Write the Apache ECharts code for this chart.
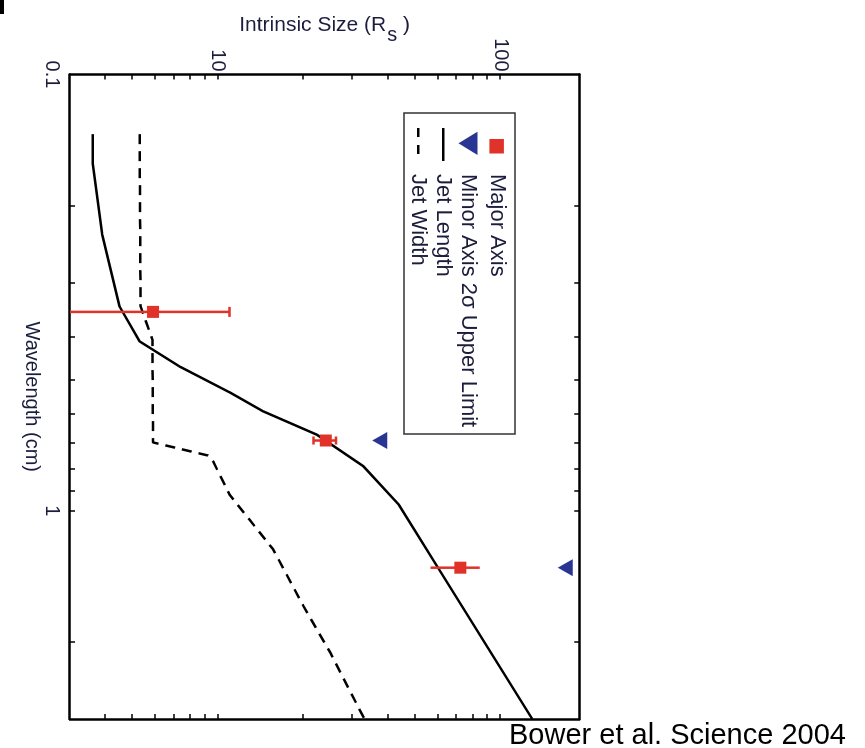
<!DOCTYPE html>
<html>
<head>
<meta charset="utf-8">
<script src="https://cdn.jsdelivr.net/npm/echarts@6/dist/echarts.min.js"></script>
<style>
  body { margin: 0; width: 865px; height: 748px; overflow: hidden; background: #fff; position: relative; }
  /* the figure is printed turned a quarter clockwise, so the chart is drawn upright and turned */
  #chart { position: absolute; left: 0; top: 0; width: 748px; height: 865px;
           transform-origin: 0 0; transform: translateX(865px) rotate(90deg); }
  #credit { position: absolute; left: 509px; top: 720px; font: 29px/29px "Liberation Sans", Arial, sans-serif;
            color: #000; white-space: nowrap; }
  #crop { position: absolute; left: 0; top: 0; width: 4px; height: 14px; background: #000; }
</style>
</head>
<body>
<div id="chart"></div>
<div id="credit">Bower et al. Science 2004</div>
<div id="crop"></div>
<script>
// wavelength in cm, intrinsic size in Schwarzschild radii
var jetLengthWl   = [0.137, 0.160, 0.233, 0.340, 0.409, 0.467, 0.535, 0.592, 0.669, 0.790, 0.967, 1.339, 3.0];
var jetLengthSize = [3.61, 3.61, 3.90, 4.49, 5.29, 7.33, 11.0, 14.5, 22.4, 32.7, 43.6, 59.6, 129.5];

var jetWidthWl   = [0.137, 0.340, 0.405, 0.697, 0.747, 0.770, 0.918, 1.226, 1.654, 2.114, 3.0];
var jetWidthSize = [5.29, 5.33, 5.87, 5.90, 9.24, 9.62, 11.0, 15.7, 20.1, 25.0, 33.0];

var majorWl   = [0.35, 0.69, 1.35];
var majorSize = [5.9, 24.1, 72.1];
var majorLow  = [0.8, 21.8, 56.5];
var majorHigh = [11.0, 26.2, 84.5];

var minorWl    = [0.69, 1.35];
var minorLimit = [37.4, 169.3];

var wlTicks    = [0.2, 0.3, 0.4, 0.5, 0.6, 0.7, 0.8, 0.9, 1, 2];
var wlLabels   = [0.1, 1];
var sizeTicks  = [4, 5, 6, 7, 8, 9, 10, 20, 30, 40, 50, 60, 70, 80, 90, 100];
var sizeLabels = [10, 100];

var legendNames = ['Major Axis', 'Minor Axis 2σ Upper Limit', 'Jet Length', 'Jet Width'];

var capSizes = [10, 8, 0];

var RED = '#e03228';
var BLUE = '#283593';
var INK = '#1c1c3c';
var FONT = '"Liberation Sans", Arial, sans-serif';

function zip(a, b) {
  return a.map(function (v, i) { return [v, b[i]]; });
}

function wlAxis(pos, labels) {
  return {
    type: 'log', logBase: 10, min: 0.1, max: 3, position: pos,
    axisLine: { show: true, onZero: false, lineStyle: { color: '#000', width: 2.5 } },
    axisTick: { show: true, inside: true, length: 5, customValues: wlTicks, lineStyle: { color: '#000', width: 1.5 } },
    axisLabel: { show: labels, customValues: wlLabels, margin: 8, fontSize: 20, color: INK, fontFamily: FONT },
    splitLine: { show: false },
    minorTick: { show: false }
  };
}

function sizeAxis(pos, labels) {
  return {
    type: 'log', logBase: 10, min: 3, max: 190, position: pos,
    axisLine: { show: true, onZero: false, lineStyle: { color: '#000', width: 2.5 } },
    axisTick: { show: true, inside: true, length: 5, customValues: sizeTicks, lineStyle: { color: '#000', width: 1.5 } },
    axisLabel: { show: labels, customValues: sizeLabels, margin: 3, fontSize: 20, color: INK, fontFamily: FONT },
    splitLine: { show: false },
    minorTick: { show: false }
  };
}

// legend drawn by hand (upright frame), rows follow legendNames
function legendGraphic() {
  var rowY = [368.3, 397, 421.7, 446.7];
  var items = [
    { type: 'rect', z: 6, shape: { x: 113, y: 350, width: 321, height: 111 },
      style: { fill: '#fff', stroke: '#333', lineWidth: 1.5 } },
    { type: 'rect', z: 7, shape: { x: 139, y: rowY[0] - 7.2, width: 14.5, height: 14.5 }, style: { fill: RED } },
    { type: 'polygon', z: 7, shape: { points: [[131.7, rowY[1] - 9.5], [155, rowY[1] - 9.5], [143.3, rowY[1] + 9.5]] },
      style: { fill: BLUE } },
    { type: 'line', z: 7, shape: { x1: 128, y1: rowY[2], x2: 161, y2: rowY[2] },
      style: { stroke: '#000', lineWidth: 2.5 } },
    { type: 'line', z: 7, shape: { x1: 128, y1: rowY[3], x2: 161, y2: rowY[3] },
      style: { stroke: '#000', lineWidth: 2.5, lineDash: [9, 8] } }
  ];
  legendNames.forEach(function (name, i) {
    items.push({ type: 'text', z: 7, x: 174, y: rowY[i],
      style: { text: name, fill: INK, font: '22px ' + FONT, align: 'left', verticalAlign: 'middle' } });
  });
  return items;
}

var chartDom = document.getElementById('chart');
var myChart = echarts.init(chartDom);
var option;

var xMain = wlAxis('bottom', true);
xMain.name = 'Wavelength (cm)';
xMain.nameLocation = 'middle';
xMain.nameGap = 28;
xMain.nameMoveOverlap = false;
xMain.nameTextStyle = { fontSize: 20, color: INK, fontFamily: FONT };

// subscript s: same size, pushed down by opposite paddings
var yMain = sizeAxis('left', true);
yMain.name = '{a|Intrinsic Size (R}{b|s}{a| )}';
yMain.nameLocation = 'middle';
yMain.nameGap = 33;
yMain.nameMoveOverlap = false;
yMain.nameTextStyle = {
  color: INK, fontFamily: FONT,
  rich: {
    a: { fontSize: 21, color: INK, fontFamily: FONT, lineHeight: 23, padding: [0, 0, 10, 0] },
    b: { fontSize: 20, color: INK, fontFamily: FONT, lineHeight: 23, padding: [10, 0, 0, 1] }
  }
};

option = {
  animation: false,
  backgroundColor: '#fff',
  grid: { left: 74.5, right: 29, top: 285.7, bottom: 70, containLabel: false, outerBoundsMode: 'none' },
  xAxis: [xMain, wlAxis('top', false)],
  yAxis: [yMain, sizeAxis('right', false)],
  graphic: legendGraphic(),
  series: [
    {
      name: 'Jet Length', type: 'line', data: zip(jetLengthWl, jetLengthSize),
      symbol: 'none', showSymbol: false, z: 2,
      lineStyle: { color: '#000', width: 2.5 }, itemStyle: { color: '#000' }
    },
    {
      name: 'Jet Width', type: 'line', data: zip(jetWidthWl, jetWidthSize),
      symbol: 'none', showSymbol: false, z: 2,
      lineStyle: { color: '#000', width: 2.5, type: [10, 7] }, itemStyle: { color: '#000' }
    },
    {
      type: 'custom', clip: true, z: 3,
      data: majorWl.map(function (w, i) { return [w, majorLow[i], majorHigh[i]]; }),
      renderItem: function (params, api) {
        var lo = api.coord([api.value(0), api.value(1)]);
        var hi = api.coord([api.value(0), api.value(2)]);
        var cap = capSizes[params.dataIndex];
        var st = { stroke: RED, lineWidth: 2.5 };
        var kids = [{ type: 'line', shape: { x1: lo[0], y1: lo[1], x2: hi[0], y2: hi[1] }, style: st }];
        if (cap) {
          kids.push({ type: 'line', shape: { x1: lo[0] - cap / 2, y1: lo[1], x2: lo[0] + cap / 2, y2: lo[1] }, style: st });
          kids.push({ type: 'line', shape: { x1: hi[0] - cap / 2, y1: hi[1], x2: hi[0] + cap / 2, y2: hi[1] }, style: st });
        }
        return { type: 'group', children: kids };
      }
    },
    {
      name: 'Major Axis', type: 'scatter', data: zip(majorWl, majorSize),
      symbol: 'rect', symbolSize: 12, z: 4,
      itemStyle: { color: RED, opacity: 1 }
    },
    {
      name: 'Minor Axis 2σ Upper Limit', type: 'scatter', data: zip(minorWl, minorLimit),
      symbol: 'triangle', symbolSize: [17, 15], symbolRotate: 180, z: 4,
      itemStyle: { color: BLUE, opacity: 1 }
    }
  ]
};

option && myChart.setOption(option);
</script>
</body>
</html>
